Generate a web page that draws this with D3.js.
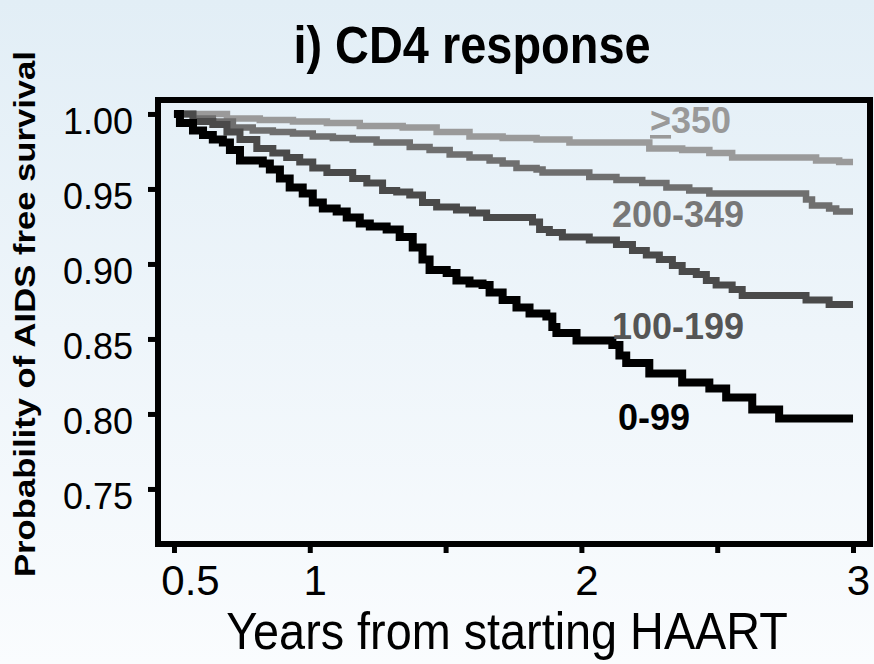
<!DOCTYPE html>
<html>
<head>
<meta charset="utf-8">
<script src="https://cdn.jsdelivr.net/npm/d3@7"></script>
<style>
  html, body { margin: 0; padding: 0; }
  body { width: 874px; height: 664px; overflow: hidden;
         background: linear-gradient(#e2eef6, #fafcfe); }
  text { font-family: Arial, "Liberation Sans", sans-serif; }
</style>
</head>
<body>
<div id="chart"></div>
<script>
// Kaplan-Meier estimates (years, survival)
var years_350 = [0.5, 0.695, 0.816, 0.938, 1.063, 1.184, 1.342, 1.467, 1.588, 1.710, 1.835, 1.956, 2.250, 2.371, 2.471, 2.555, 2.864, 2.949, 3.0];
var surv_350  = [1.000, 0.997, 0.996, 0.995, 0.994, 0.992, 0.991, 0.988, 0.985, 0.984, 0.983, 0.981, 0.977, 0.976, 0.974, 0.971, 0.969, 0.968, 0.968];

var years_200 = [0.5, 0.570, 0.643, 0.717, 0.790, 0.864, 0.938, 1.011, 1.085, 1.158, 1.246, 1.368, 1.441, 1.515, 1.588, 1.662, 1.710, 1.761, 1.835, 1.857, 2.029, 2.129, 2.224, 2.313, 2.397, 2.471, 2.827, 2.849, 2.912, 2.938, 3.0];
var surv_200  = [1.000, 0.997, 0.995, 0.991, 0.989, 0.988, 0.987, 0.985, 0.984, 0.983, 0.981, 0.978, 0.976, 0.973, 0.971, 0.969, 0.967, 0.964, 0.963, 0.961, 0.958, 0.956, 0.954, 0.951, 0.949, 0.947, 0.943, 0.939, 0.937, 0.935, 0.935];

var years_100 = [0.5, 0.570, 0.643, 0.695, 0.743, 0.805, 0.864, 0.915, 0.963, 1.011, 1.063, 1.158, 1.210, 1.268, 1.320, 1.368, 1.415, 1.467, 1.540, 1.599, 1.651, 1.820, 1.846, 1.882, 1.930, 2.029, 2.129, 2.188, 2.239, 2.287, 2.335, 2.371, 2.423, 2.460, 2.496, 2.555, 2.592, 2.827, 2.912, 3.0];
var surv_100  = [1.000, 0.995, 0.993, 0.988, 0.983, 0.977, 0.974, 0.971, 0.968, 0.964, 0.961, 0.957, 0.954, 0.949, 0.948, 0.946, 0.941, 0.938, 0.936, 0.934, 0.931, 0.928, 0.923, 0.921, 0.918, 0.916, 0.913, 0.909, 0.906, 0.903, 0.899, 0.895, 0.893, 0.889, 0.886, 0.883, 0.879, 0.876, 0.873, 0.873];

var years_0 = [0.5, 0.522, 0.570, 0.607, 0.643, 0.680, 0.706, 0.743, 0.827, 0.853, 0.890, 0.926, 0.974, 1.011, 1.048, 1.099, 1.136, 1.184, 1.221, 1.283, 1.331, 1.379, 1.415, 1.441, 1.504, 1.540, 1.588, 1.636, 1.662, 1.710, 1.761, 1.809, 1.871, 1.893, 1.908, 1.982, 2.114, 2.140, 2.165, 2.250, 2.371, 2.471, 2.533, 2.629, 2.728, 3.0];
var surv_0  = [1.000, 0.994, 0.989, 0.986, 0.983, 0.981, 0.976, 0.969, 0.967, 0.963, 0.957, 0.951, 0.947, 0.941, 0.937, 0.935, 0.931, 0.927, 0.925, 0.923, 0.918, 0.911, 0.903, 0.896, 0.894, 0.889, 0.887, 0.886, 0.881, 0.876, 0.871, 0.867, 0.865, 0.858, 0.854, 0.849, 0.846, 0.839, 0.834, 0.827, 0.821, 0.817, 0.811, 0.803, 0.797, 0.797];

var groups = ["\u2265350", "200-349", "100-199", "0-99"];
var yTicks = [0.75, 0.80, 0.85, 0.90, 0.95, 1.00];
var xTicks = [0.5, 1, 1.5, 2, 2.5, 3];
var xLabelled = [0.5, 1, 2, 3];

var series = [
  {name: groups[0], years: years_350, surv: surv_350, color: "#9a9a9a", width: 6.5},
  {name: groups[1], years: years_200, surv: surv_200, color: "#6f6f6f", width: 6.5},
  {name: groups[2], years: years_100, surv: surv_100, color: "#4a4a4a", width: 7},
  {name: groups[3], years: years_0,   surv: surv_0,   color: "#000000", width: 8}
];

// set the dimensions and margins of the graph
var margin = {top: 100, left: 158},
    width = 712,
    height = 444;

var svg = d3.select("#chart")
  .append("svg")
    .attr("width", 874)
    .attr("height", 664);

var g = svg.append("g")
    .attr("transform", "translate(" + margin.left + "," + margin.top + ")");

var x = d3.scaleLinear()
  .domain([0.4412, 3.0625])
  .range([0, width]);

var y = d3.scaleLinear()
  .domain([0.7133, 1.0093])
  .range([height, 0]);

// Y axis
var yAxis = g.append("g")
  .call(d3.axisLeft(y).tickValues(yTicks).tickSize(10).tickPadding(0)
        .tickFormat(d3.format(".2f")));
yAxis.select(".domain").remove();
yAxis.selectAll(".tick line").attr("stroke", "#000").attr("stroke-width", 5);
yAxis.selectAll(".tick text")
    .attr("x", -25)
    .attr("fill", "#000")
    .attr("dy", "0.55em")
    .style("font-size", "36px");

// X axis
var xAxis = g.append("g")
  .attr("transform", "translate(0," + height + ")")
  .call(d3.axisBottom(x).tickValues(xTicks).tickSize(9).tickPadding(12)
        .tickFormat(function(d) { return xLabelled.indexOf(d) >= 0 ? d : ""; }));
xAxis.select(".domain").remove();
xAxis.selectAll(".tick line").attr("stroke", "#000").attr("stroke-width", 5);
xAxis.selectAll(".tick text")
    .attr("fill", "#000")
    .attr("dx", function(d) { return d === 0.5 ? 16 : 5; })
    .style("font-size", "42px");

// curves
var line = d3.line()
  .x(function(d) { return x(d[0]); })
  .y(function(d) { return y(d[1]); })
  .curve(d3.curveStepAfter);

series.forEach(function(s) {
  var pts = s.years.map(function(t, i) { return [t, s.surv[i]]; });
  g.append("path")
    .datum(pts)
    .attr("fill", "none")
    .attr("stroke", s.color)
    .attr("stroke-width", s.width)
    .attr("d", line);
});

// frame
g.append("rect")
  .attr("width", width)
  .attr("height", height)
  .attr("fill", "none")
  .attr("stroke", "#000")
  .attr("stroke-width", 6);

// group labels
var lab = g.append("g").style("font-weight", "bold").style("font-size", "36px");
var t350 = lab.append("text").attr("x", 650 - margin.left).attr("y", 133 - margin.top).attr("fill", "#999999");
t350.append("tspan").attr("text-decoration", "underline").text(">");
t350.append("tspan").text("350");
lab.append("text").attr("x", 612 - margin.left).attr("y", 227 - margin.top).attr("fill", "#777777").text(groups[1]);
lab.append("text").attr("x", 612 - margin.left).attr("y", 339 - margin.top).attr("fill", "#555555").text(groups[2]);
lab.append("text").attr("x", 618 - margin.left).attr("y", 430 - margin.top).attr("fill", "#000000").text(groups[3]);

// titles
svg.append("text")
  .attr("transform", "translate(472,63) scale(0.92,1)")
  .attr("text-anchor", "middle")
  .style("font-weight", "bold")
  .style("font-size", "51px")
  .text("i) CD4 response");

svg.append("text")
  .attr("transform", "translate(507,649) scale(0.9,1)")
  .attr("text-anchor", "middle")
  .style("font-size", "52px")
  .text("Years from starting HAART");

svg.append("text")
  .attr("transform", "translate(35,314)rotate(-90)")
  .attr("text-anchor", "middle")
  .attr("textLength", 526)
  .attr("lengthAdjust", "spacingAndGlyphs")
  .style("font-weight", "bold")
  .style("font-size", "30px")
  .text("Probability of AIDS free survival");
</script>
</body>
</html>
